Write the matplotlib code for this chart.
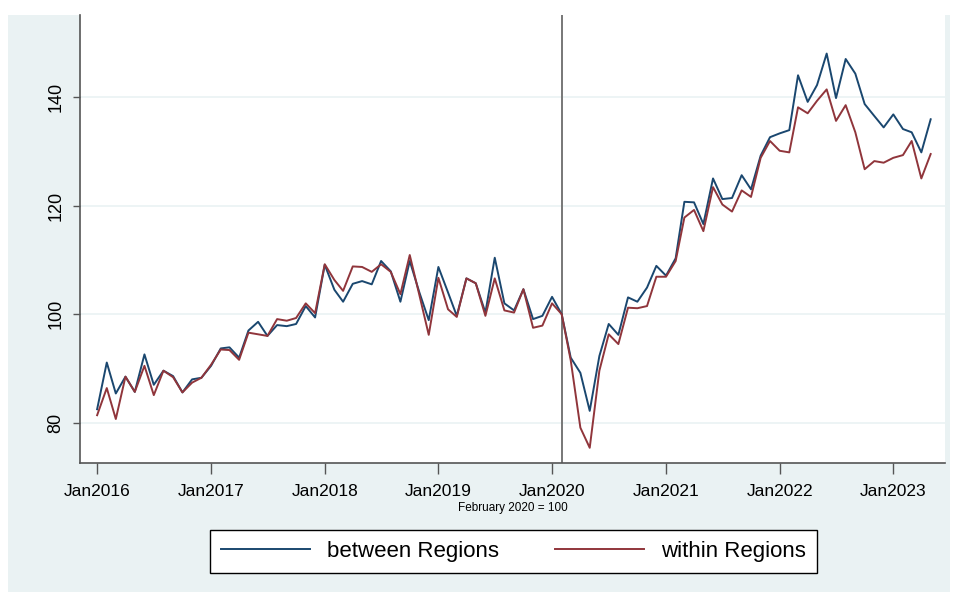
import numpy as np
import pandas as pd
import matplotlib
matplotlib.use("Agg")
import matplotlib.pyplot as plt
import matplotlib.dates as mdates
from matplotlib.patches import Rectangle

# monthly index, Feb 2020 = 100
months = pd.date_range("2016-01-01", periods=89, freq="MS")
between = [82.5, 91.1, 85.4, 88.5, 85.7, 92.6, 87.0, 89.6, 88.6, 85.6, 88.0, 88.3,
           90.5, 93.7, 93.9, 92.0, 97.0, 98.6, 96.0, 98.0, 97.8, 98.2, 101.5, 99.4,
           109.1, 104.5, 102.3, 105.6, 106.1, 105.5, 109.8, 107.9, 102.3, 109.8, 104.0, 98.9,
           108.7, 104.0, 99.7, 106.6, 105.7, 100.3, 110.4, 102.0, 100.7, 104.6, 99.1, 99.7,
           103.2, 100.0, 92.0, 89.2, 82.2, 92.3, 98.2, 96.2, 103.1, 102.3, 104.9, 108.9,
           107.1, 110.3, 120.7, 120.6, 116.6, 125.0, 121.2, 121.4, 125.6, 123.0, 129.2, 132.6,
           133.3, 133.9, 144.0, 139.1, 142.2, 148.0, 139.8, 147.0, 144.3, 138.7, 136.5, 134.4,
           136.8, 134.1, 133.5, 129.8, 135.9]
within = [81.4, 86.4, 80.7, 88.5, 85.7, 90.5, 85.1, 89.6, 88.4, 85.6, 87.4, 88.3,
          90.7, 93.5, 93.4, 91.6, 96.6, 96.3, 96.0, 99.1, 98.8, 99.3, 102.0, 100.2,
          109.2, 106.3, 104.3, 108.8, 108.7, 107.8, 109.2, 107.8, 103.7, 110.9, 103.5, 96.2,
          106.7, 100.9, 99.5, 106.6, 105.7, 99.7, 106.6, 100.7, 100.3, 104.6, 97.5, 97.9,
          102.0, 100.0, 91.5, 79.1, 75.4, 89.6, 96.3, 94.5, 101.2, 101.1, 101.5, 106.9,
          106.9, 109.8, 117.8, 119.2, 115.3, 123.4, 120.2, 118.9, 122.8, 121.6, 128.8, 131.9,
          130.1, 129.8, 138.1, 137.0, 139.3, 141.4, 135.6, 138.5, 133.5, 126.7, 128.2, 127.9,
          128.8, 129.3, 131.9, 125.0, 129.5]
yticks = [80, 100, 120, 140]
base_month = pd.Timestamp("2020-02-01")

bg = "#eaf2f3"
blue = "#1a476f"
red = "#90353b"
font = ["Liberation Sans Narrow", "Liberation Sans", "DejaVu Sans"]

fig = plt.figure(figsize=(9.57, 5.96), dpi=100, facecolor="white")
fig.patches.append(Rectangle((8 / 957, 4 / 596), 942 / 957, 577 / 596,
                             transform=fig.transFigure, facecolor=bg,
                             edgecolor="none", zorder=-10))

ax = fig.add_axes([80 / 957, 1 - 463 / 596, 865 / 957, 448 / 596])
ax.set_facecolor("white")

ax.plot(months, between, color=blue, lw=1.4, label="between Regions", zorder=3)
ax.plot(months, within, color=red, lw=1.4, label="within Regions", zorder=3)
ax.axvline(base_month, color="#777777", lw=1.4, zorder=2)

ax.set_ylim(72.6, 155.1)
ax.set_xlim(pd.Timestamp("2015-11-07"), pd.Timestamp("2023-06-16"))
ax.set_yticks(yticks)
ax.set_yticklabels([str(v) for v in yticks], rotation=90, va="center",
                   fontsize=13, family=font)
ax.grid(axis="y", color=bg, lw=1.2, zorder=0)

ax.xaxis.set_major_locator(mdates.YearLocator(1, month=1, day=1))
ax.xaxis.set_major_formatter(mdates.DateFormatter("%b%Y"))
for lab in ax.get_xticklabels():
    lab.set_fontsize(12.5)
    lab.set_family(font)

for s in ["top", "right"]:
    ax.spines[s].set_visible(False)
for s in ["left", "bottom"]:
    ax.spines[s].set_color("#555555")
    ax.spines[s].set_linewidth(1.2)
ax.tick_params(axis="x", length=8, width=1, color="#555555", pad=7)
ax.tick_params(axis="y", length=5, width=1, color="#555555", pad=6)

fig.text(513 / 957, 1 - 508 / 596, "February 2020 = 100", ha="center", va="center",
         fontsize=8.5, family=font)

fig.legend(loc="center", bbox_to_anchor=(513.5 / 957, 1 - 551.5 / 596), ncol=2,
           frameon=True, fancybox=False, edgecolor="black", framealpha=1,
           prop={"family": font, "size": 16}, handlelength=4, columnspacing=2.5,
           borderpad=0.5)

fig.savefig("out.png", dpi=100, facecolor="white")
